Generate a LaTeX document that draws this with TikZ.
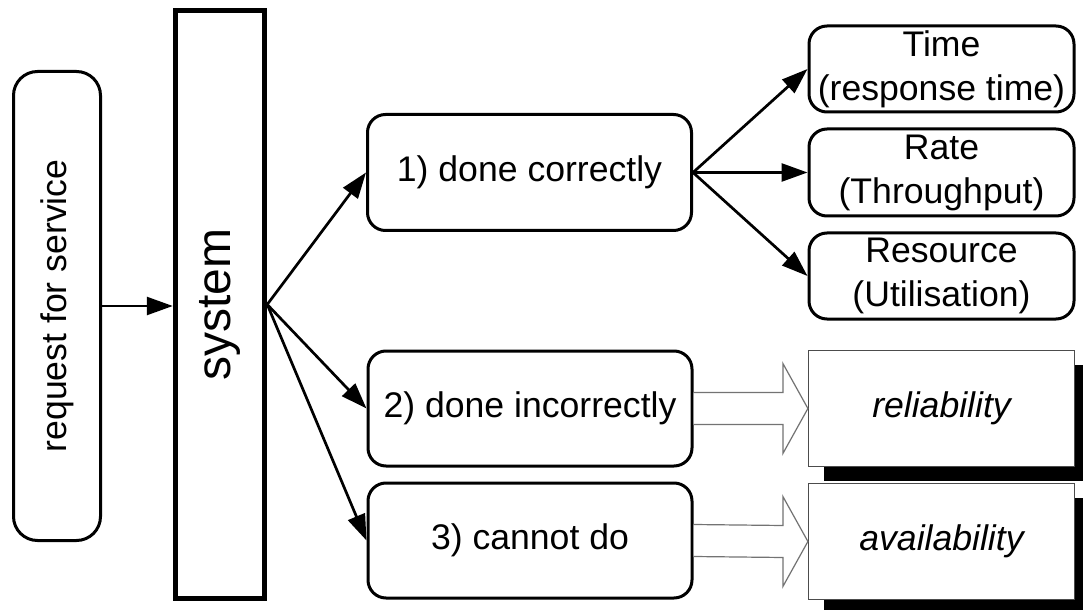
\documentclass[tikz,border=0pt]{standalone}
\usepackage{fontspec}
\setmainfont{Liberation Sans}
\usetikzlibrary{arrows.meta,shadows}

\tikzset{
  lbl/.style={font=\fontsize{17.8}{22}\selectfont, align=center, inner sep=0pt},
  rbox/.style={draw, line width=1.5pt, rounded corners=9pt, fill=white, inner sep=0pt},
  sysbox/.style={draw, line width=2.75pt, fill=white, inner sep=0pt},
  qualbox/.style={draw=black!70, line width=0.6pt, fill=white, inner sep=0pt,
    font=\fontsize{17.8}{22}\selectfont\itshape,
    drop shadow={shadow xshift=7.5pt, shadow yshift=-7pt, fill=black, opacity=1}},
  flow/.style={line width=1.35pt, -{Triangle[length=13pt,width=9pt]}},
  blockarrow/.style={draw=black!55, line width=0.6pt, fill=white}
}

\begin{document}
\begin{tikzpicture}[x=0.5pt,y=-0.5pt]
\useasboundingbox (0,0) rectangle (1083,610);

% quality boxes with drop shadows
\node[qualbox, minimum width=133pt, minimum height=58pt] (rel) at (941.5,408.5) {reliability};
\node[qualbox, minimum width=133pt, minimum height=58pt] (avail) at (941.5,541.5) {availability};

% request and system
\node[rbox, rounded corners=12pt, minimum width=43.5pt, minimum height=234.5pt] (req) at (57,306) {};
\node[lbl, rotate=90] (reqtext) at (req.center) {request for service};
\node[sysbox, minimum width=44.5pt, minimum height=294pt] (sys) at (220,304.5) {};
\node[lbl, rotate=90, font=\fontsize{24}{28}\selectfont] (systext) at (sys.center) {system};

% outcomes
\node[rbox, lbl, draw, line width=1.5pt, rounded corners=9pt, minimum width=162pt, minimum height=58pt] (c1) at (529.5,172.5) {1) done correctly};
\node[rbox, lbl, draw, line width=1.5pt, rounded corners=9pt, minimum width=162pt, minimum height=57.5pt] (c2) at (530,408.5) {2) done incorrectly};
\node[rbox, lbl, draw, line width=1.5pt, rounded corners=9pt, minimum width=162pt, minimum height=57.5pt] (c3) at (530,540.5) {3) cannot do};

% performance measures
\node[rbox, lbl, draw, line width=1.5pt, rounded corners=9pt, minimum width=132.5pt, minimum height=43pt] (time) at (941.5,69) {Time\\(response time)};
\node[rbox, lbl, draw, line width=1.5pt, rounded corners=9pt, minimum width=132.5pt, minimum height=43.5pt] (rate) at (941.5,172.5) {Rate\\(Throughput)};
\node[rbox, lbl, draw, line width=1.5pt, rounded corners=9pt, minimum width=132.5pt, minimum height=43pt] (res) at (941.5,276) {Resource\\(Utilisation)};

% hollow block arrows
\draw[blockarrow] ([yshift=8pt]c2.east) -- ([xshift=-12.5pt,yshift=8pt]rel.west)
  -- ([xshift=-12.5pt,yshift=22.5pt]rel.west) -- (rel.west)
  -- ([xshift=-12.5pt,yshift=-22.5pt]rel.west) -- ([xshift=-12.5pt,yshift=-8pt]rel.west)
  -- ([yshift=-8pt]c2.east);
\draw[blockarrow] ([yshift=8pt]c3.east) -- ([xshift=-12.5pt,yshift=8pt]avail.west)
  -- ([xshift=-12.5pt,yshift=22.5pt]avail.west) -- (avail.west)
  -- ([xshift=-12.5pt,yshift=-22.5pt]avail.west) -- ([xshift=-12.5pt,yshift=-8pt]avail.west)
  -- ([yshift=-8pt]c3.east);

% connectors
\draw[flow] (req.east) -- (sys.west |- req.east);
\draw[flow] (sys.east) -- (c1.west);
\draw[flow] (sys.east) -- (c2.west);
\draw[flow] (sys.east) -- (c3.west);
\draw[flow] (c1.east) -- (time.west);
\draw[flow] (c1.east) -- (rate.west);
\draw[flow] (c1.east) -- (res.west);
\end{tikzpicture}
\end{document}
